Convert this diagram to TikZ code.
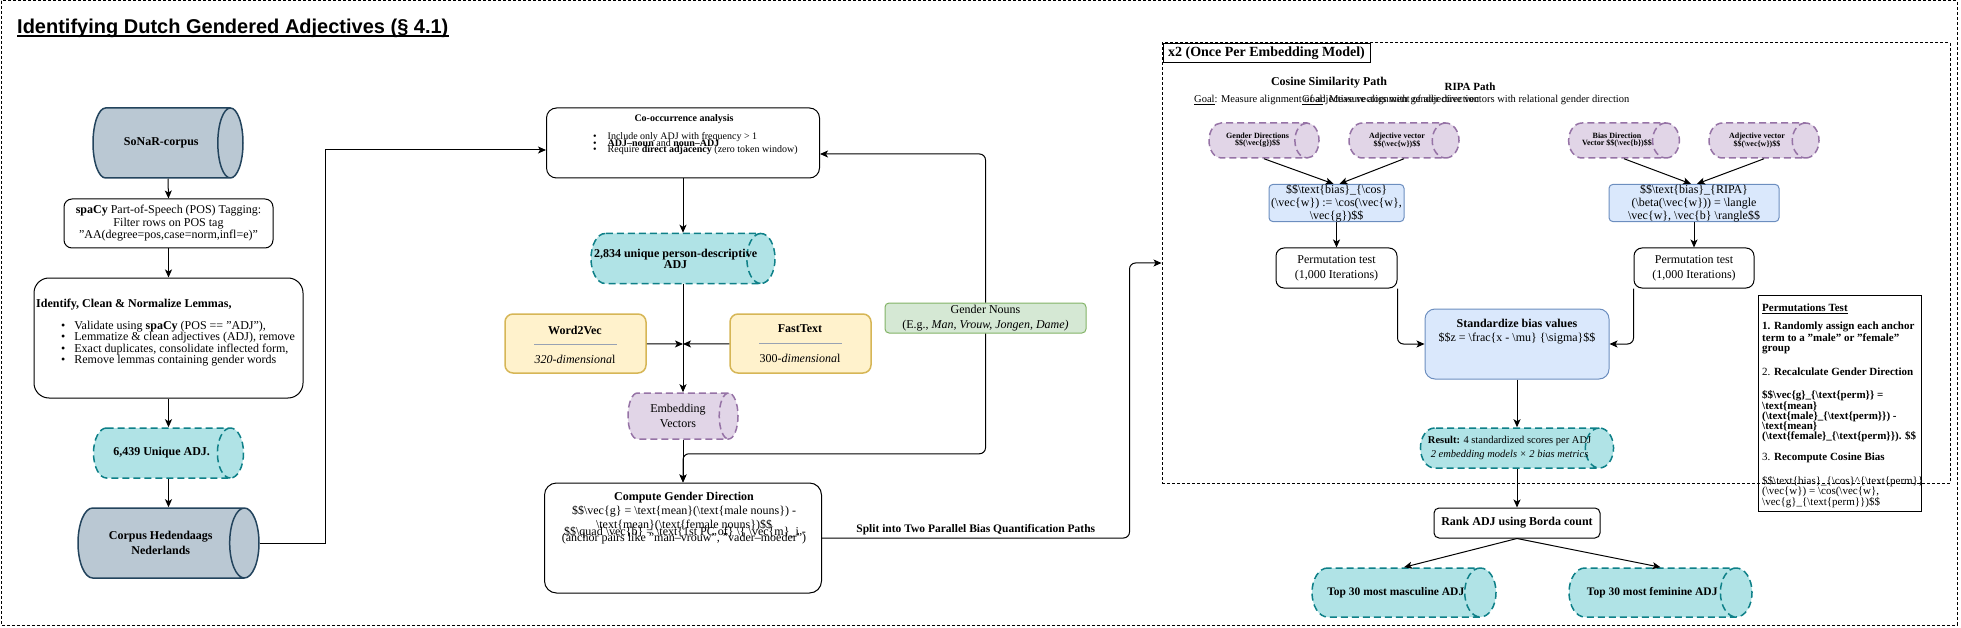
\documentclass[tikz,border=0pt]{standalone}
\usepackage{fontspec}
\setmainfont{Liberation Serif}
\newfontfamily\headfont{Liberation Sans}
\usetikzlibrary{shapes,arrows.meta}

\definecolor{slateFill}{HTML}{BAC8D3}
\definecolor{slateLine}{HTML}{23445D}
\definecolor{tealFill}{HTML}{B0E3E6}
\definecolor{tealLine}{HTML}{0E8088}
\definecolor{lilacFill}{HTML}{E1D5E7}
\definecolor{lilacLine}{HTML}{9673A6}
\definecolor{sandFill}{HTML}{FFF2CC}
\definecolor{sandLine}{HTML}{D6B656}
\definecolor{mintFill}{HTML}{D5E8D4}
\definecolor{mintLine}{HTML}{82B366}
\definecolor{skyFill}{HTML}{DAE8FC}
\definecolor{skyLine}{HTML}{6C8EBF}
\definecolor{ruleGray}{HTML}{98A2B3}

\newcommand{\bs}{\textbackslash}

\tikzstyle{plainText} = [inner sep=0pt, align=center, font=\fontsize{12}{14}\selectfont]
\tikzstyle{processStage} = [rectangle, rounded corners=8pt, draw, fill=white, line width=1pt,
    align=center, inner sep=0pt, font=\fontsize{12}{15}\selectfont]
\tikzstyle{modelBox} = [processStage, draw=sandLine, fill=sandFill, line width=1.5pt]
\tikzstyle{formulaBox} = [processStage, rounded corners=4pt, draw=skyLine, fill=skyFill]
% cylinders lie on their side: minimum height runs along the axis
\tikzstyle{corpusStore} = [cylinder, shape border rotate=0, aspect=2.4, anchor=shape center,
    draw=slateLine, fill=slateFill, line width=1.5pt, inner sep=0pt, align=center,
    font=\bfseries\fontsize{12}{15}\selectfont]
\tikzstyle{adjStore} = [corpusStore, draw=tealLine, fill=tealFill, dash pattern=on 7pt off 4pt]
\tikzstyle{vecStore} = [corpusStore, draw=lilacLine, fill=lilacFill, dash pattern=on 7pt off 4pt,
    font=\fontsize{12}{15}\selectfont]
\tikzstyle{flow} = [draw, line width=1pt, -{Stealth[length=8pt, width=7pt, inset=2pt]}]

\begin{document}
\begin{tikzpicture}[x=1pt, y=-1pt]
    \useasboundingbox (0,0) rectangle (1961,628);
    % Frames and title
    \draw[dash pattern=on 3pt off 2pt, line width=1pt] (1,1) rectangle (1957,625);
    \node[draw, dash pattern=on 3pt off 2pt, line width=1pt, minimum width=788pt,
        minimum height=440pt, inner sep=0pt] (perModel) at (1556,263) {};
    \node[rectangle, draw, fill=white, line width=1pt, minimum width=207pt, minimum height=19pt,
        inner sep=0pt, font=\bfseries\fontsize{14}{16}\selectfont] (perModelTag) at (1266.5,53.5)
        {x2 (Once Per Embedding Model)};
    \node[anchor=base west, inner sep=0pt, font=\headfont\bfseries\fontsize{20}{24}\selectfont]
        (title) at (17,34) {Identifying Dutch Gendered Adjectives (§ 4.1)};
    \draw[line width=1.3pt] ([yshift=-2pt]title.base west) -- ([yshift=-2pt]title.base east);

    % Corpus and lemma extraction
    \node[corpusStore, minimum height=150pt, minimum width=70pt] (sonar) at (168,143) {SoNaR-corpus};
    \node[processStage, minimum width=209pt, minimum height=49pt, font=\fontsize{12}{12.5}\selectfont]
        (posTag) at (168.5,223.5)
        {\textbf{spaCy} Part-of-Speech (POS) Tagging:\\Filter rows on POS tag\\"AA(degree=pos,case=norm,infl=e)"};
    \node[processStage, rounded corners=15pt, minimum width=269pt, minimum height=120pt]
        (lemmas) at (168.5,338) {};
    \node[plainText, anchor=west, font=\bfseries\fontsize{12}{14}\selectfont] at (36,305)
        {Identify, Clean \& Normalize Lemmas,};
    \node[plainText, anchor=north west, align=left, font=\fontsize{12}{11}\selectfont] at (61,321)
        {\textbullet\hspace{9pt}Validate using \textbf{spaCy} (POS == "ADJ"),\\
         \textbullet\hspace{9pt}Lemmatize \& clean adjectives (ADJ), remove\\
         \textbullet\hspace{9pt}Exact duplicates, consolidate inflected form,\\
         \textbullet\hspace{9pt}Remove lemmas containing gender words};
    \node[adjStore, minimum height=150pt, minimum width=50pt] (uniqueAdj) at (168.5,453) {6,439 Unique ADJ.};
    \node[corpusStore, aspect=1.25, minimum height=181pt, minimum width=70pt] (chn) at (168.5,543)
        {Corpus Hedendaags\\Nederlands};

    % Co-occurrence and embeddings
    \node[processStage, rounded corners=10pt, minimum width=273pt, minimum height=70pt] (cooc) at (683,143) {};
    \node[plainText, font=\bfseries\fontsize{10}{12}\selectfont] at (684,119) {Co-occurrence analysis};
    \node[plainText, anchor=west, font=\fontsize{10}{12}\selectfont] at (593,137)
        {\textbullet\hspace{11pt}Include only ADJ with frequency > 1};
    \node[plainText, anchor=west, font=\fontsize{10}{12}\selectfont] at (593,143)
        {\textbullet\hspace{11pt}\textbf{ADJ–noun} and \textbf{noun–ADJ}};
    \node[plainText, anchor=west, font=\fontsize{10}{12}\selectfont] at (593,150)
        {\textbullet\hspace{11pt}Require \textbf{direct adjacency} (zero token window)};
    \node[adjStore, aspect=1.45, minimum height=184pt, minimum width=50pt,
        font=\bfseries\fontsize{12}{11}\selectfont] (personAdj) at (683,258.5)
        {\makebox[130pt]{2,834 unique person-descriptive}\\ADJ};
    \node[modelBox, minimum width=141pt, minimum height=59pt] (w2v) at (575.5,343.5) {};
    \node[plainText, font=\bfseries\fontsize{12}{14}\selectfont] at (575,330) {Word2Vec};
    \draw[ruleGray, line width=1pt] (534,344) -- (617,344);
    \node[plainText] at (575,359) {\textit{320-dimensiona}l};
    \node[modelBox, minimum width=141pt, minimum height=59pt] (fastText) at (800.5,343.5) {};
    \node[plainText, font=\bfseries\fontsize{12}{14}\selectfont] at (800,329) {FastText};
    \draw[ruleGray, line width=1pt] (759,343) -- (842,343);
    \node[plainText] at (800,358) {300-\textit{dimensiona}l};
    \node[processStage, rounded corners=4pt, draw=mintLine, fill=mintFill, minimum width=201pt,
        minimum height=30pt] (genderNouns) at (985.5,318)
        {Gender Nouns\\(E.g., \textit{Man, Vrouw, Jongen, Dame)}};
    \coordinate (modelJoin) at (683,344);
    \node[vecStore, aspect=0.8, minimum height=110pt, minimum width=46pt] (embed) at (683,416)
        {Embedding\\Vectors};
    \node[processStage, rounded corners=12pt, minimum width=277pt, minimum height=110pt]
        (genderDir) at (683,538) {};
    \node[plainText, font=\bfseries\fontsize{12}{14}\selectfont] at (684,498) {Compute Gender Direction};
    \node[plainText] at (684,511) {\$\$\bs vec\{g\} = \bs text\{mean\}(\bs text\{male nouns\}) -};
    \node[plainText] at (684,525) {\bs text\{mean\}(\bs text\{female nouns\})\$\$};
    \node[plainText] at (685,532) {\$\$\bs quad \bs vec\{b\} = \bs text\{1st PC of\} \bs\{ \bs vec\{m\}\_i -};
    \node[plainText] at (684,539) {(anchor pairs like "man–vrouw", "vader–moeder")};

    % Bias quantification paths
    \node[plainText, font=\bfseries\fontsize{12}{14}\selectfont] at (1329,83) {Cosine Similarity Path};
    \node[plainText, font=\bfseries\fontsize{11}{13}\selectfont] at (1470,87) {RIPA Path};
    \node[plainText, anchor=west, font=\fontsize{10.5}{12}\selectfont] at (1194,100)
        {\underline{Goal}: Measure alignment of adjective vectors with gender direction};
    \node[plainText, anchor=west, font=\fontsize{10.5}{12}\selectfont] at (1302,100)
        {\underline{Goal}: Measure alignment of adjective vectors with relational gender direction};
    \node[vecStore, aspect=1.7, minimum height=110pt, minimum width=35pt,
        font=\bfseries\fontsize{8}{5}\selectfont] (genderDirs) at (1264,140.5)
        {Gender Directions\\\$\$(\bs vec\{g\})\$\$};
    \node[vecStore, aspect=1.7, minimum height=110pt, minimum width=35pt,
        font=\bfseries\fontsize{8}{5}\selectfont] (adjVecA) at (1404,140.5)
        {Adjective vector\\\$\$(\bs vec\{w\})\$\$};
    \node[vecStore, aspect=1.9, minimum height=110pt, minimum width=35pt,
        font=\bfseries\fontsize{8}{3}\selectfont] (biasDir) at (1624,140.5)
        {Bias Direction\\Vector \$\$(\bs vec\{b\})\$\$};
    \node[vecStore, aspect=1.7, minimum height=110pt, minimum width=35pt,
        font=\bfseries\fontsize{8}{5}\selectfont] (adjVecB) at (1764,140.5)
        {Adjective vector\\\$\$(\bs vec\{w\})\$\$};
    \node[formulaBox, minimum width=135pt, minimum height=30pt, font=\fontsize{12}{13}\selectfont]
        (cosBias) at (1336.5,203)
        {\$\$\bs text\{bias\}\_\{\bs cos\}\\(\bs vec\{w\}) := \bs cos(\bs vec\{w\},\\\bs vec\{g\})\$\$};
    \node[formulaBox, minimum width=170pt, minimum height=30pt, font=\fontsize{12}{13}\selectfont]
        (ripaBias) at (1694,203)
        {\$\$\bs text\{bias\}\_\{RIPA\}\\(\bs beta(\bs vec\{w\})) = \bs langle\\\bs vec\{w\}, \bs vec\{b\} \bs rangle\$\$};
    \node[processStage, minimum width=121pt, minimum height=40pt] (cosPerm) at (1336.5,268)
        {Permutation test\\(1,000 Iterations)};
    \node[processStage, minimum width=120pt, minimum height=40pt] (ripaPerm) at (1694,268)
        {Permutation test\\(1,000 Iterations)};
    \node[formulaBox, rounded corners=10pt, minimum width=184pt, minimum height=70pt]
        (standardize) at (1517,344) {};
    \node[plainText, font=\bfseries\fontsize{12}{14}\selectfont] at (1517,323) {Standardize bias values};
    \node[plainText] at (1517,338) {\$\$z = \bs frac\{x - \bs mu\} \{\bs sigma\}\$\$};
    \node[adjStore, aspect=1.2, minimum height=192pt, minimum width=40pt,
        font=\fontsize{10.5}{14}\selectfont] (result) at (1517,448)
        {\makebox[150pt]{\textbf{Result:} 4 standardized scores per ADJ}\\
         \makebox[150pt]{\textit{2 embedding models × 2 bias metrics}}};
    \node[processStage, rounded corners=5pt, minimum width=166pt, minimum height=30pt,
        font=\bfseries\fontsize{12}{14}\selectfont] (rank) at (1517,523) {Rank ADJ using Borda count};
    \node[adjStore, aspect=3, minimum height=184pt, minimum width=49pt,
        font=\bfseries\fontsize{11.5}{14}\selectfont] (topMasc) at (1404,592.5)
        {\makebox[120pt]{Top 30 most masculine ADJ}};
    \node[adjStore, aspect=3, minimum height=183pt, minimum width=49pt,
        font=\bfseries\fontsize{11.5}{14}\selectfont] (topFem) at (1660.5,592.5)
        {\makebox[120pt]{Top 30 most feminine ADJ}};

    % Permutation note
    \node[rectangle, draw, line width=1pt, minimum width=163pt, minimum height=216pt, inner sep=0pt]
        (permNote) at (1839.5,403) {};
    \node[plainText, anchor=north west, align=left, font=\fontsize{11}{10}\selectfont] at (1762,304)
        {\underline{\textbf{Permutations Test}}\\[8pt]
         \textbf{1. Randomly assign each anchor}\\
         \textbf{term to a "male" or "female"}\\
         \textbf{group}\\[13pt]
         2. \textbf{Recalculate Gender Direction}\\[13pt]
         \textbf{\$\$\bs vec\{g\}\_\{\bs text\{perm\}\} =}\\
         \textbf{\bs text\{mean\}}\\
         \textbf{(\bs text\{male\}\_\{\bs text\{perm\}\}) -}\\
         \textbf{\bs text\{mean\}}\\
         \textbf{(\bs text\{female\}\_\{\bs text\{perm\}\}). \$\$}\\[11pt]
         3. \textbf{Recompute Cosine Bias}\\[13pt]
         \$\$\bs text\{bias\}\_\{\bs cos\}\textasciicircum\{\bs text\{perm\}\}\\
         (\bs vec\{w\}) = \bs cos(\bs vec\{w\},\\
         \bs vec\{g\}\_\{\bs text\{perm\}\})\$\$};

    % Connectors (cylinders are met at their shape centre)
    \path[flow] (sonar.shape center |- sonar.south) -- (posTag.north);
    \path[flow] (posTag) -- (lemmas);
    \path[flow] (lemmas.south) -- (uniqueAdj.shape center |- uniqueAdj.north);
    \path[flow] (uniqueAdj.shape center |- uniqueAdj.south) -- (chn.shape center |- chn.north);
    \path[flow] (chn.east) -- ++(66,0) |- ([yshift=-7pt]cooc.west);
    \path[flow] (cooc.south) -- (personAdj.shape center |- personAdj.north);
    \path[draw, line width=1pt] (personAdj.shape center |- personAdj.south) -- (modelJoin);
    \path[flow] (w2v) -- (modelJoin);
    \path[flow] (fastText) -- (modelJoin);
    \path[flow] (modelJoin) -- (embed.shape center |- embed.north);
    \path[flow] (embed.shape center |- embed.south) -- (genderDir.north);
    \path[flow, rounded corners=6pt] (genderNouns.north) |- ([yshift=-11pt]cooc.east);
    \path[flow, rounded corners=6pt] (genderNouns.south) |- ([yshift=-14pt]embed.shape center |- embed.south)
        -- (genderDir.north);
    \path[flow, rounded corners=6pt] (genderDir.east) -| ([xshift=-32pt]perModel.west)
        node[pos=0.25, above=3pt, font=\bfseries\fontsize{11.5}{14}\selectfont, inner sep=0pt]
        {Split into Two Parallel Bias Quantification Paths} -- (perModel.west);
    \path[flow] (genderDirs.shape center |- genderDirs.south) -- ([xshift=-3pt]cosBias.north);
    \path[flow] (adjVecA.shape center |- adjVecA.south) -- ([xshift=3pt]cosBias.north);
    \path[flow] (biasDir.shape center |- biasDir.south) -- ([xshift=-3pt]ripaBias.north);
    \path[flow] (adjVecB.shape center |- adjVecB.south) -- ([xshift=3pt]ripaBias.north);
    \path[flow] (cosBias) -- (cosPerm);
    \path[flow] (ripaBias) -- (ripaPerm);
    \path[flow, rounded corners=6pt] (cosPerm.south east) |- (standardize.west);
    \path[flow, rounded corners=6pt] (ripaPerm.south west) |- (standardize.east);
    \path[flow] (standardize.south) -- (result.shape center |- result.north);
    \path[flow] (result.shape center |- result.south) -- (rank.north);
    \path[flow] (rank.south) -- (topMasc.shape center |- topMasc.north);
    \path[flow] (rank.south) -- (topFem.shape center |- topFem.north);
\end{tikzpicture}
\end{document}
